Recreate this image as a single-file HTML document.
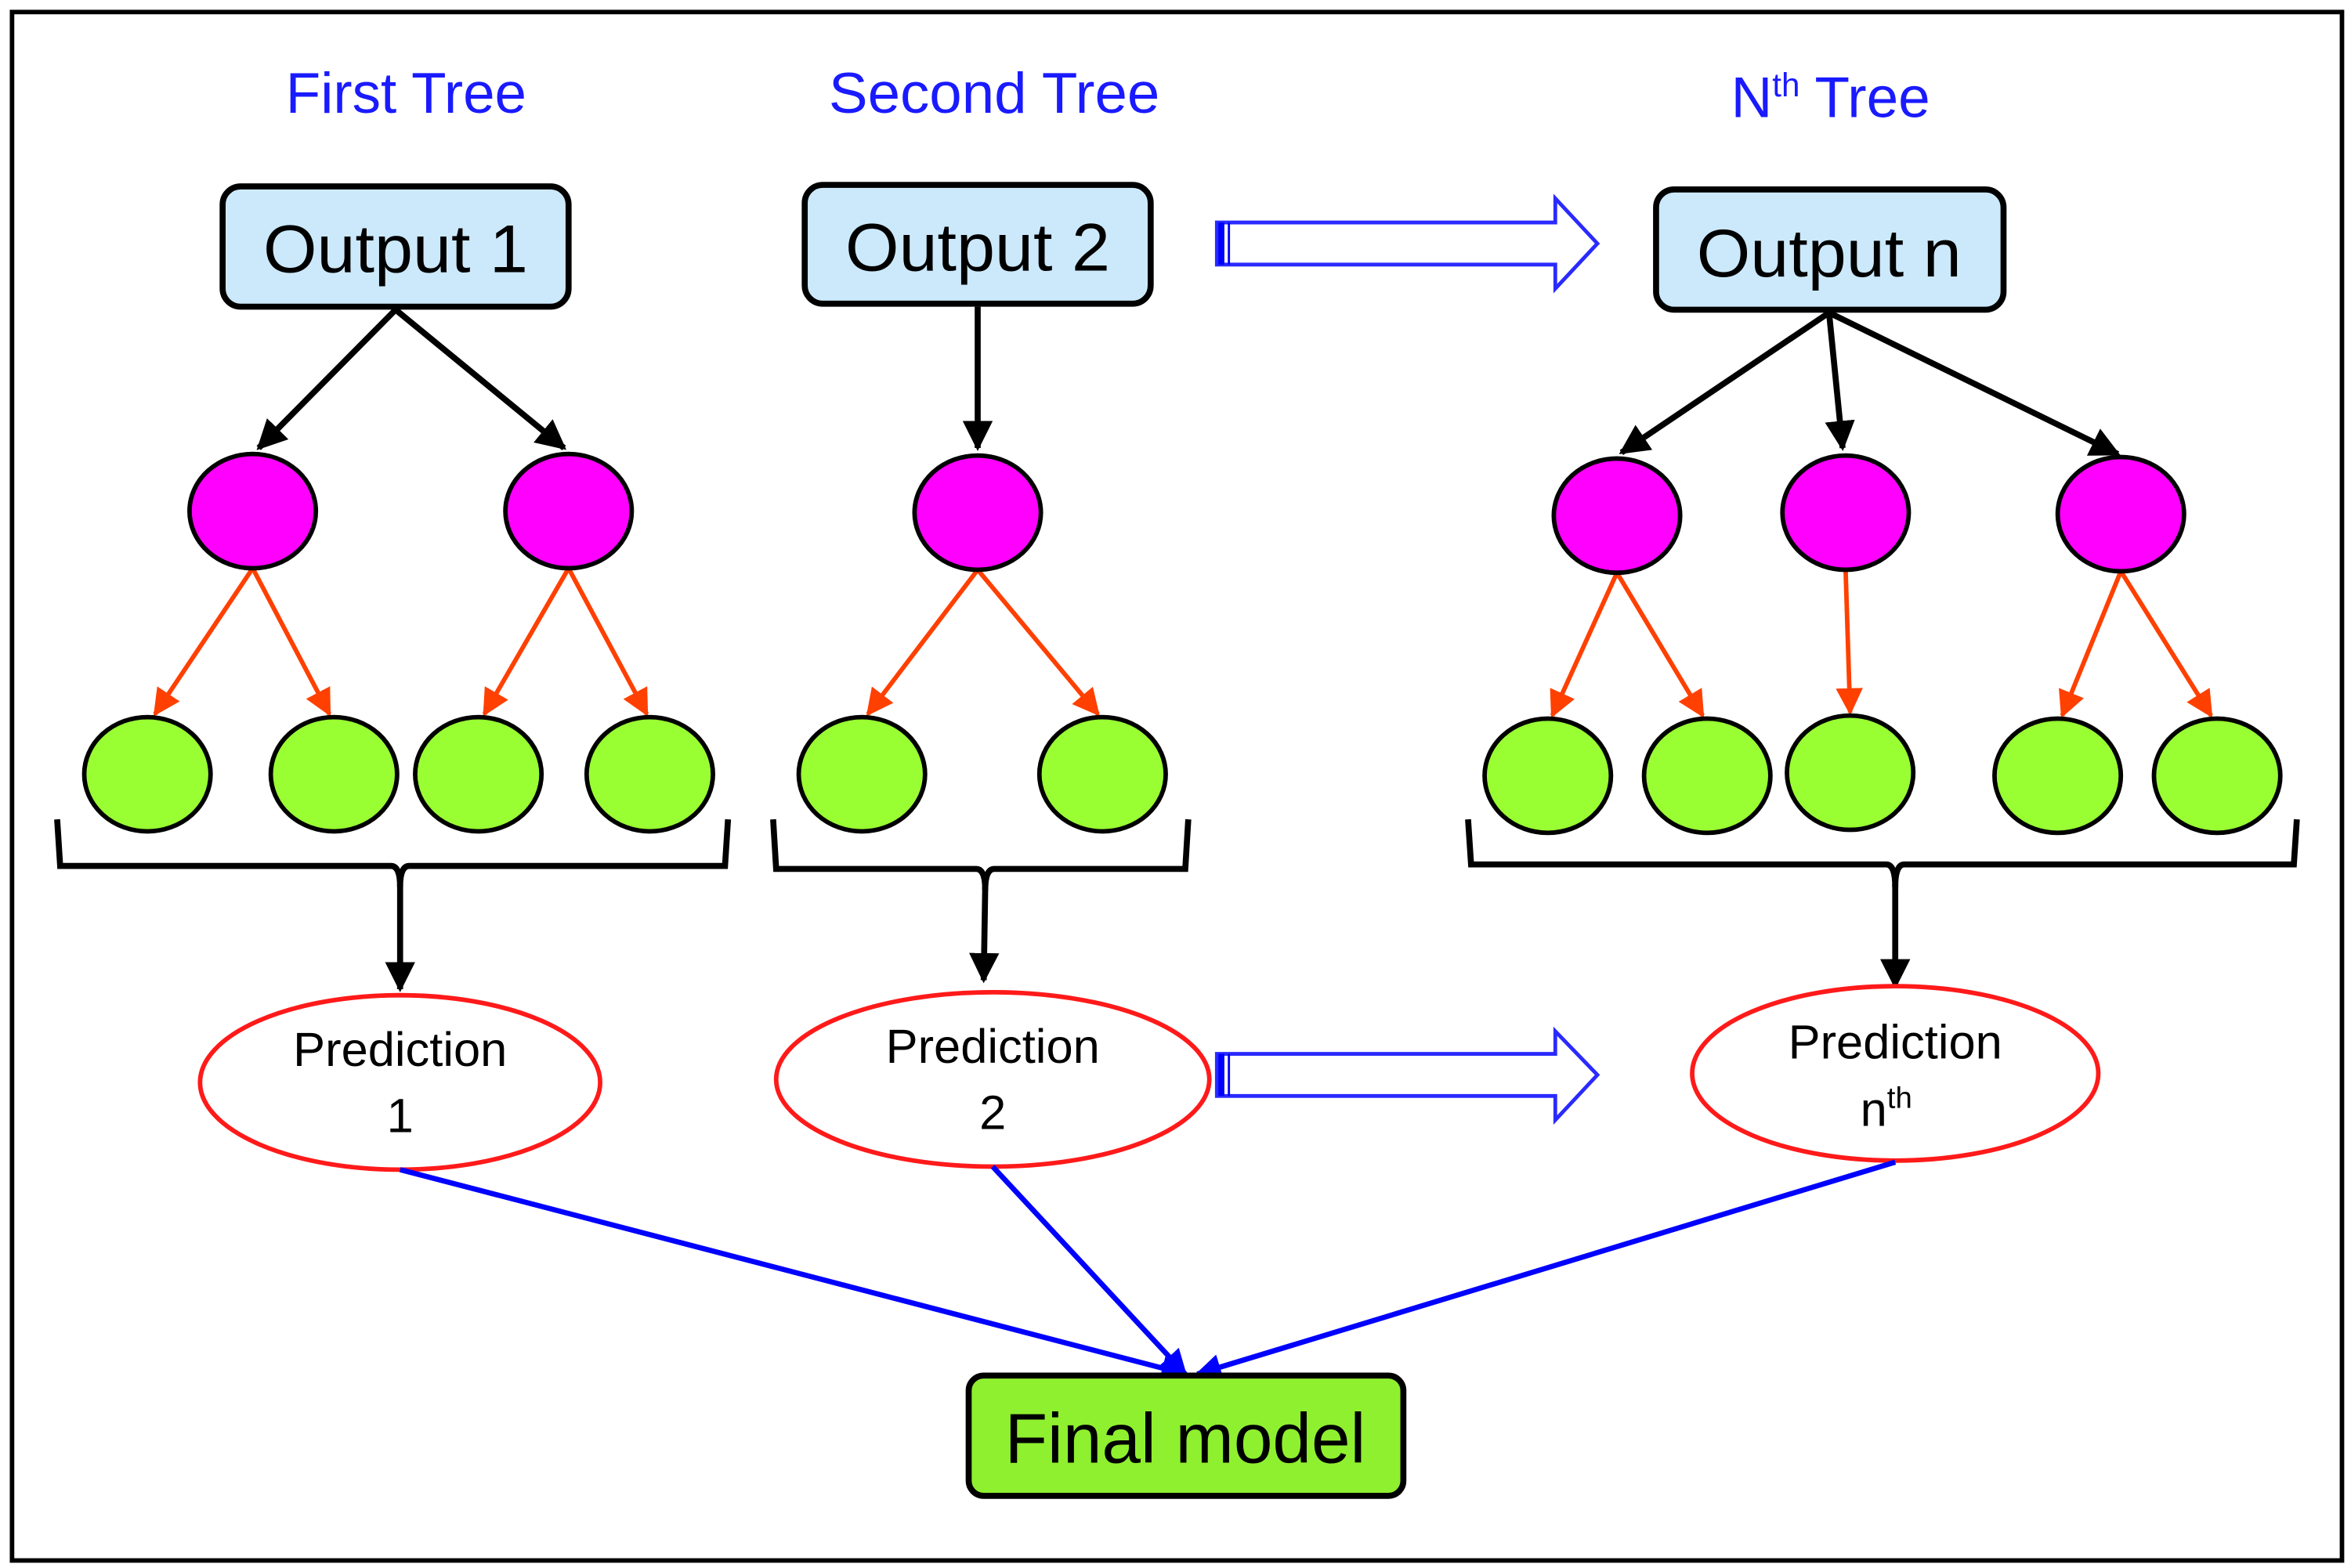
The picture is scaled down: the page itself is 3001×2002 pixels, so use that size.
<!DOCTYPE html>
<html><head><meta charset="utf-8"><style>
html,body{margin:0;padding:0;background:#fff;}
svg{display:block;}
text{font-family:"Liberation Sans",sans-serif;}
</style></head><body>
<svg width="3001" height="2002" viewBox="0 0 1563 1043" preserveAspectRatio="none" xmlns="http://www.w3.org/2000/svg">
<defs>
<marker id="ab" viewBox="0 0 10 10" refX="9" refY="5" markerWidth="5" markerHeight="5" orient="auto"><path d="M0,0 L10,5 L0,10 z" fill="#000"/></marker>
<marker id="ao" viewBox="0 0 10 10" refX="9" refY="5" markerWidth="6" markerHeight="6" orient="auto"><path d="M0,0 L10,5 L0,10 z" fill="#ff4000"/></marker>
<marker id="abl" viewBox="0 0 10 10" refX="9" refY="5" markerWidth="5" markerHeight="5" orient="auto"><path d="M0,0 L10,5 L0,10 z" fill="#0000ff"/></marker>
</defs>
<rect x="0" y="0" width="1563" height="1043" fill="#fff"/>
<rect x="8" y="8" width="1549" height="1030" fill="none" stroke="#000" stroke-width="3"/>

<g fill="#1a1aff" font-size="38">
<text x="190" y="75" textLength="160" lengthAdjust="spacingAndGlyphs">First Tree</text>
<text x="551" y="75" textLength="220" lengthAdjust="spacingAndGlyphs">Second Tree</text>
<text x="1217" y="78" text-anchor="middle">N<tspan font-size="22" dy="-14">th</tspan><tspan dy="14"> Tree</tspan></text>
</g>

<g fill="#cce9fb" stroke="#000" stroke-width="4">
<rect x="148" y="124" width="230" height="80" rx="12"/>
<rect x="535" y="123" width="230" height="79" rx="12"/>
<rect x="1101" y="126" width="231" height="80" rx="12"/>
</g>
<g font-size="45" fill="#000">
<text x="175" y="181" textLength="176" lengthAdjust="spacingAndGlyphs">Output 1</text>
<text x="562" y="180" textLength="176" lengthAdjust="spacingAndGlyphs">Output 2</text>
<text x="1128" y="184" textLength="176" lengthAdjust="spacingAndGlyphs">Output n</text>
</g>

<g stroke="#000" stroke-width="4" marker-end="url(#ab)">
<line x1="263" y1="206" x2="172" y2="298"/>
<line x1="263" y1="206" x2="375" y2="298"/>
<line x1="650" y1="204" x2="650" y2="298"/>
<line x1="1216" y1="208" x2="1078" y2="301"/>
<line x1="1216" y1="208" x2="1225" y2="298"/>
<line x1="1216" y1="208" x2="1408" y2="302"/>
</g>

<g stroke="#ff4000" stroke-width="3" marker-end="url(#ao)">
<line x1="168" y1="378" x2="103" y2="475"/>
<line x1="168" y1="378" x2="219" y2="475"/>
<line x1="378" y1="378" x2="322" y2="475"/>
<line x1="378" y1="378" x2="430" y2="475"/>
<line x1="650" y1="379" x2="577" y2="475"/>
<line x1="650" y1="379" x2="730" y2="475"/>
<line x1="1075" y1="381" x2="1032" y2="476"/>
<line x1="1075" y1="381" x2="1132" y2="476"/>
<line x1="1227" y1="379" x2="1230" y2="474"/>
<line x1="1410" y1="380" x2="1371" y2="476"/>
<line x1="1410" y1="380" x2="1470" y2="476"/>
</g>

<g fill="#ff00ff" stroke="#000" stroke-width="3">
<ellipse cx="168" cy="340" rx="42" ry="38"/>
<ellipse cx="378" cy="340" rx="42" ry="38"/>
<ellipse cx="650" cy="341" rx="42" ry="38"/>
<ellipse cx="1075" cy="343" rx="42" ry="38"/>
<ellipse cx="1227" cy="341" rx="42" ry="38"/>
<ellipse cx="1410" cy="342" rx="42" ry="38"/>
</g>
<g fill="#99ff33" stroke="#000" stroke-width="3">
<ellipse cx="98" cy="515" rx="42" ry="38"/>
<ellipse cx="222" cy="515" rx="42" ry="38"/>
<ellipse cx="318" cy="515" rx="42" ry="38"/>
<ellipse cx="432" cy="515" rx="42" ry="38"/>
<ellipse cx="573" cy="515" rx="42" ry="38"/>
<ellipse cx="733" cy="515" rx="42" ry="38"/>
<ellipse cx="1029" cy="516" rx="42" ry="38"/>
<ellipse cx="1135" cy="516" rx="42" ry="38"/>
<ellipse cx="1230" cy="514" rx="42" ry="38"/>
<ellipse cx="1368" cy="516" rx="42" ry="38"/>
<ellipse cx="1474" cy="516" rx="42" ry="38"/>
</g>

<g fill="none" stroke="#000" stroke-width="4">
<path d="M38,545 L40,576 L260,576 Q266,576 266,590"/>
<path d="M484,545 L482,576 L272,576 Q266,576 266,590"/>
<path d="M514,545 L516,578 L649,578 Q655,578 655,592"/>
<path d="M790,545 L788,578 L661,578 Q655,578 655,592"/>
<path d="M976,545 L978,575 L1254,575 Q1260,575 1260,590"/>
<path d="M1527,545 L1525,575 L1266,575 Q1260,575 1260,590"/>
</g>
<g stroke="#000" stroke-width="4" marker-end="url(#ab)">
<line x1="266" y1="588" x2="266" y2="658"/>
<line x1="655" y1="590" x2="654" y2="652"/>
<line x1="1260" y1="588" x2="1260" y2="656"/>
</g>

<g fill="#fff" stroke="#ff1a1a" stroke-width="3">
<ellipse cx="266" cy="720" rx="133" ry="58"/>
<ellipse cx="660" cy="718" rx="144" ry="58"/>
<ellipse cx="1260" cy="714" rx="135" ry="58"/>
</g>
<g font-size="32" text-anchor="middle" fill="#000">
<text x="266" y="709">Prediction</text>
<text x="266" y="753">1</text>
<text x="660" y="707">Prediction</text>
<text x="660" y="751">2</text>
<text x="1260" y="704">Prediction</text>
<text x="1254" y="749">n<tspan font-size="20" dy="-12">th</tspan></text>
</g>

<g fill="#fff" stroke="#2a2aff" stroke-width="2.5">
<path d="M809,148 L1034,148 L1034,132 L1062,162 L1034,192 L1034,176 L809,176 Z"/>
<path d="M809,701 L1034,701 L1034,686 L1062,715 L1034,745 L1034,729 L809,729 Z"/>
</g>
<g stroke="#0000ff" stroke-width="4">
<line x1="812" y1="148" x2="812" y2="176"/>
<line x1="812" y1="701" x2="812" y2="729"/>
</g>
<line x1="817" y1="148" x2="817" y2="176" stroke="#0000ff" stroke-width="1.5"/>
<line x1="817" y1="701" x2="817" y2="729" stroke="#0000ff" stroke-width="1.5"/>

<g stroke="#0000ff" stroke-width="3.5" marker-end="url(#abl)">
<line x1="266" y1="778" x2="788" y2="914"/>
<line x1="660" y1="776" x2="788" y2="914"/>
<line x1="1260" y1="773" x2="796" y2="914"/>
</g>

<rect x="644" y="915" width="289" height="80" rx="10" fill="#8ff02f" stroke="#000" stroke-width="4"/>
<text x="668" y="973" font-size="47" fill="#000" textLength="240" lengthAdjust="spacingAndGlyphs">Final model</text>
</svg>
</body></html>
